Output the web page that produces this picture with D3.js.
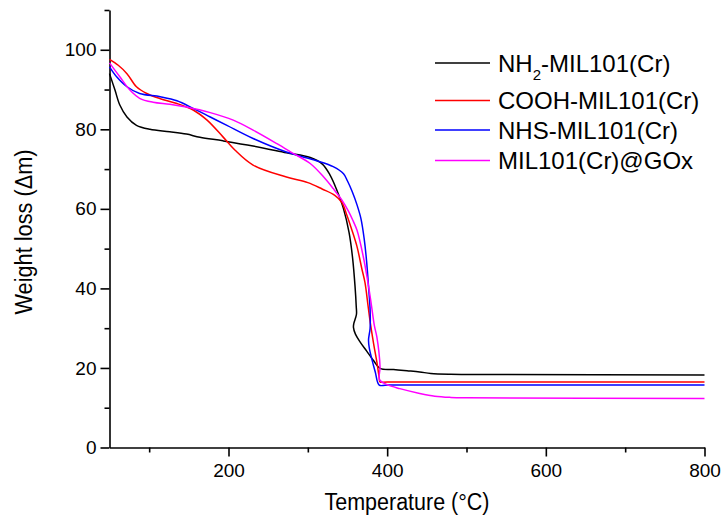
<!DOCTYPE html>
<meta charset="utf-8">
<script src="https://d3js.org/d3.v7.min.js"></script>
<style>
  html, body { margin: 0; padding: 0; background: #fff; }
  svg { display: block; font-family: 'Liberation Sans', Arial, sans-serif; }
  .tick text { font-size: 19px; fill: #000; }
  .domain, .tick line { stroke: #000; stroke-width: 1.6; }
</style>
<body>
<div id="chart"></div>
<script>

// tick values
var xMajor = [200, 400, 600, 800],
    xMinor = [100, 300, 500, 700],
    yMajor = [0, 20, 40, 60, 80, 100],
    yMinor = [10, 30, 50, 70, 90, 110];

// series: [temperature, weight]
var nh2 = [[50,94.0],[57,89.8],[63,86.1],[72,83.1],[84,81.0],[101,80.0],[126,79.4],[147,78.8],[164,78.0],[193,77.1],[231,75.8],[273,74.1],[303,72.9],[318,71.3],[328,68.5],[336,65.0],[345,60.0],[352,54.0],[356.5,47.5],[359.5,40.5],[361,35.5],[361.3,33.5],[358,31.2],[357.5,30.2],[360,28.5],[366,26.5],[374,24.3],[383,21.8],[391,19.9],[408,19.6],[425,19.3],[441,19.0],[455,18.6],[480,18.4],[540,18.35],[800,18.2]];
var cooh = [[50,97.6],[61,96.1],[72,94.0],[84,90.7],[97,89.0],[114,87.7],[135,86.5],[156,84.8],[173,82.3],[193,78.1],[208,74.8],[231,71.0],[273,68.0],[300,66.6],[318,65.0],[334,63.4],[343,61.6],[349,58.5],[355,55.0],[362,50.5],[368,45.0],[372,41.5],[376,35.5],[379,31],[383,26],[387,21.5],[390,17.5],[391,16.5],[400,16.5],[800,16.5]];
var nhs = [[50,95.7],[59,93.2],[72,90.7],[88,89.0],[114,88.2],[135,87.2],[156,85.2],[177,83.1],[198,81.0],[231,77.7],[273,74.3],[311,72.1],[332,70.6],[345,68.8],[350,67],[356,64.3],[362,61],[367,57.5],[371,52.5],[374,47],[376.5,40.5],[378.5,34.5],[378.5,30],[376.5,27],[377.5,25],[380.6,22.3],[385,19],[390,15.7],[400,15.7],[800,15.7]];
var gox = [[50,96.7],[63,93.2],[76,89.8],[88,87.8],[105,86.8],[126,86.3],[147,85.6],[177,84.2],[206,82.3],[231,79.8],[261,76.4],[282,73.9],[303,71.4],[320,68.0],[332,65.1],[343,62.2],[351,59.5],[357,57],[362,54.6],[370,47.9],[376,41.2],[380,36],[384,30.5],[387,27.8],[391,20.3],[390.5,17],[400,15.8],[416,14.8],[441,13.6],[460,12.9],[480,12.6],[500,12.5],[800,12.3]];

var seriesNames = ["NH2-MIL101(Cr)", "COOH-MIL101(Cr)", "NHS-MIL101(Cr)", "MIL101(Cr)@GOx"];
var seriesColors = ["#000000", "#ff0000", "#0000ff", "#ff00ff"];
var seriesData = [nh2, cooh, nhs, gox];

var W = 722, H = 519;

var svg = d3.select("#chart")
  .append("svg")
    .attr("width", W)
    .attr("height", H);

var x = d3.scaleLinear()
  .domain([50, 800])
  .range([109.5, 704.5]);

var y = d3.scaleLinear()
  .domain([0, 110])
  .range([447.5, 10]);

// X axis
svg.append("g")
  .attr("transform", "translate(0," + y(0) + ")")
  .call(d3.axisBottom(x).tickValues(xMinor).tickSize(5).tickSizeOuter(0).tickFormat(""))
  .call(function(g) { g.select(".domain").remove(); });
svg.append("g")
  .attr("transform", "translate(0," + y(0) + ")")
  .call(d3.axisBottom(x).tickValues(xMajor).tickSize(9).tickSizeOuter(0).tickPadding(7));

// Y axis
svg.append("g")
  .attr("transform", "translate(" + x(50) + ",0)")
  .call(d3.axisLeft(y).tickValues(yMinor).tickSize(5).tickSizeOuter(0).tickFormat(""))
  .call(function(g) { g.select(".domain").remove(); });
svg.append("g")
  .attr("transform", "translate(" + x(50) + ",0)")
  .call(d3.axisLeft(y).tickValues(yMajor).tickSize(9).tickSizeOuter(0).tickPadding(4));

svg.selectAll(".tick text").style("font-family", "'Liberation Sans', Arial, sans-serif");

// axis titles
svg.append("text")
  .attr("x", (x(50) + x(800)) / 2)
  .attr("y", 510)
  .attr("text-anchor", "middle")
  .attr("textLength", 165)
  .attr("lengthAdjust", "spacingAndGlyphs")
  .style("font-size", "23px")
  .text("Temperature (\u00B0C)");

svg.append("text")
  .attr("transform", "rotate(-90)")
  .attr("x", -232)
  .attr("y", 32)
  .attr("text-anchor", "middle")
  .attr("textLength", 165)
  .attr("lengthAdjust", "spacingAndGlyphs")
  .style("font-size", "23px")
  .text("Weight loss (\u0394m)");

// lines
var line = d3.line()
  .x(function(d) { return x(d[0]); })
  .y(function(d) { return y(d[1]); })
  .curve(d3.curveCatmullRom.alpha(0.5));

seriesData.forEach(function(s, i) {
  svg.append("path")
    .datum(s)
    .attr("d", line)
    .attr("fill", "none")
    .attr("stroke", seriesColors[i])
    .attr("stroke-width", 1.5);
});

// legend
var legendY = [63, 100.5, 130, 160.5];
seriesNames.forEach(function(name, i) {
  svg.append("line")
    .attr("x1", 435).attr("x2", 490)
    .attr("y1", legendY[i]).attr("y2", legendY[i])
    .attr("stroke", seriesColors[i])
    .attr("stroke-width", 1.5);
  var t = svg.append("text")
    .attr("x", 498)
    .attr("y", legendY[i] + 8.5)
    .style("font-size", "24px");
  if (i == 0) {
    t.append("tspan").text("NH");
    t.append("tspan").attr("dy", 8).style("font-size", "15px").text("2");
    t.append("tspan").attr("dy", -8).text("-MIL101(Cr)");
  } else {
    t.text(name);
  }
});

</script>
</body>
